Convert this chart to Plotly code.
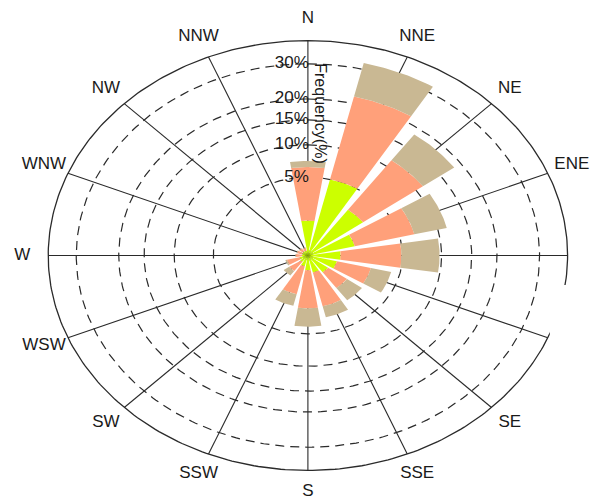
import numpy as np
import plotly.graph_objects as go

# Sixteen compass sectors, clockwise from north
directions = ["N", "NNE", "NE", "ENE", "E", "ESE", "SE", "SSE",
              "S", "SSW", "SW", "WSW", "W", "WNW", "NW", "NNW"]
direction_labels = ["N", "NNE", "NE", "ENE", "E", "", "SE", "SSE",
                    "S", "SSW", "SW", "WSW", "W", "WNW", "NW", "NNW"]

# Frequency (%) of each speed class per sector, stacked from the centre outward
speed_low = [1.0, 5.0, 2.6, 1.3, 0.6, 0.5, 0.35, 0.25,
             0.18, 0.10, 0.05, 0.04, 0.02, 0.02, 0.02, 0.02]
speed_mid = [5.4, 16.8, 8.7, 5.4, 4.3, 1.85, 0.96, 1.98,
             2.10, 1.19, 0.25, 0.22, 0.06, 0.05, 0.04, 0.03]
speed_high = [0.9, 10.2, 7.0, 4.7, 4.8, 1.75, 1.19, 1.07,
              1.86, 0.89, 0.20, 0.04, 0.01, 0.01, 0.01, 0.01]

class_colors = ["#CCFF00", "#FFA07A", "#C9B893"]

# Radial rings (square-root frequency scale)
ring_values = [5, 10, 15, 20, 30]
ring_labels = ["5%", "10%", "15%", "20%", "30%"]
outer_value = 37.7

FONT = "Liberation Sans, Arial, sans-serif"
BAR_WIDTH_DEG = 18.0


def radius(v):
    return np.sqrt(v)


def ellipse(v, n=361):
    t = np.linspace(0, 2 * np.pi, n)
    r = radius(v)
    return r * np.sin(t), r * np.cos(t)


fig = go.Figure()

# Spokes
r_out = radius(outer_value)
for i, d in enumerate(directions):
    th = np.deg2rad(i * 22.5)
    fig.add_trace(go.Scatter(
        x=[0, r_out * np.sin(th)], y=[0, r_out * np.cos(th)],
        mode="lines", line=dict(color="#2a2a2a", width=1.1),
        hoverinfo="skip", showlegend=False))

# Dashed frequency rings
for v in ring_values:
    xs, ys = ellipse(v)
    fig.add_trace(go.Scatter(
        x=xs, y=ys, mode="lines",
        line=dict(color="#2a2a2a", width=1.2, dash="9px,6px"),
        hoverinfo="skip", showlegend=False))

# Outer boundary
xs, ys = ellipse(outer_value)
fig.add_trace(go.Scatter(
    x=xs, y=ys, mode="lines", line=dict(color="#2a2a2a", width=1.3),
    hoverinfo="skip", showlegend=False))

# Stacked wedges
classes = [speed_low, speed_mid, speed_high]
for i, d in enumerate(directions):
    base = 0.0
    center = i * 22.5
    ang = np.deg2rad(np.linspace(center - BAR_WIDTH_DEG / 2,
                                 center + BAR_WIDTH_DEG / 2, 30))
    for values, color in zip(classes, class_colors):
        top = base + values[i]
        r0, r1 = radius(base), radius(top)
        px = np.concatenate([r1 * np.sin(ang), r0 * np.sin(ang[::-1])])
        py = np.concatenate([r1 * np.cos(ang), r0 * np.cos(ang[::-1])])
        fig.add_trace(go.Scatter(
            x=px, y=py, mode="lines", fill="toself", fillcolor=color,
            line=dict(width=0), hoverinfo="skip", showlegend=False))
        base = top

# Direction labels
label_r = r_out * 1.10
angles = np.deg2rad(np.arange(16) * 22.5)
fig.add_trace(go.Scatter(
    x=label_r * np.sin(angles), y=label_r * np.cos(angles),
    mode="text", text=direction_labels, textposition="middle center",
    textfont=dict(family=FONT, size=17, color="#1a1a1a"),
    cliponaxis=False, hoverinfo="skip", showlegend=False))

# Ring value labels along the north axis
fig.add_trace(go.Scatter(
    x=[0.02] * len(ring_values), y=[radius(v) for v in ring_values],
    mode="text", text=ring_labels, textposition="middle left",
    textfont=dict(family=FONT, size=17, color="#1a1a1a"),
    cliponaxis=False, hoverinfo="skip", showlegend=False))

fig.add_annotation(
    x=0.29, y=4.06, xref="x", yref="y", text="Frequency(%)",
    textangle=90, showarrow=False,
    font=dict(family=FONT, size=16, color="#1a1a1a"))

# Blank patch on the east side of the boundary
fig.add_shape(type="rect", xref="x", yref="y", x0=5.72, x1=7.6,
              y0=-0.84, y1=-3.2, fillcolor="white", line=dict(width=0),
              layer="above")

fig.update_xaxes(range=[-7.28, 6.67], visible=False, fixedrange=True)
fig.update_yaxes(range=[-6.87, 7.30], visible=False, fixedrange=True)
fig.update_layout(
    width=590, height=496,
    margin=dict(l=0, r=0, t=0, b=0),
    paper_bgcolor="white", plot_bgcolor="white",
    showlegend=False)

fig.write_html("out.html")
